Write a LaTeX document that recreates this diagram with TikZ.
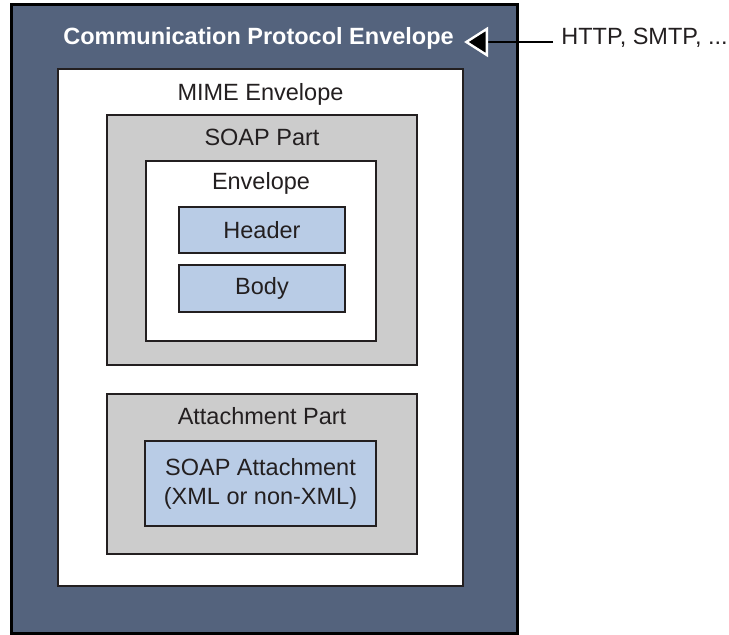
\documentclass[tikz,border=0pt]{standalone}
\usepackage{fontspec}
\setmainfont{Liberation Sans}
\usetikzlibrary{arrows.meta,positioning}
\definecolor{slate}{RGB}{84,99,125}
\definecolor{partgray}{RGB}{204,204,204}
\definecolor{soapblue}{RGB}{185,204,230}
\definecolor{edge}{RGB}{35,31,32}

\begin{document}
\begin{tikzpicture}[x=0.5pt, y=-0.5pt,
    every node/.style={font=\fontsize{11.75}{14.5}\selectfont, text=edge},
    box/.style={draw=edge, line width=1pt, rectangle, inner sep=0pt},
    title/.style={anchor=base, inner sep=0pt}]
    \useasboundingbox (0,0) rectangle (729,635);

    \node[box, draw=black, line width=1.5pt, fill=slate, minimum width=253pt, minimum height=314.5pt] (protocol) at (264,319.5) {};
    \node[box, fill=white, minimum width=202.5pt, minimum height=258.5pt] (mime) at (260.5,327.5) {};
    \node[box, fill=partgray, minimum width=155pt, minimum height=125pt] (soappart) at (262,240) {};
    \node[box, fill=white, minimum width=115pt, minimum height=90pt] (envelope) at (261,251) {};
    \node[box, fill=soapblue, minimum width=83pt, minimum height=23pt] (header) at (262,230) {Header};
    \node[box, fill=soapblue, minimum width=83pt, minimum height=23.5pt] (body) at (262,288.5) {Body};
    \node[box, fill=partgray, minimum width=155pt, minimum height=80pt] (attachpart) at (262,474) {};
    \node[box, fill=soapblue, minimum width=115.5pt, minimum height=42.5pt, align=center] (attachment) at (260.5,483.5) {SOAP Attachment\\(XML or non-XML)};

    \node[title, text=white, font=\fontsize{11.75}{14.5}\selectfont\bfseries] (protocoltitle) at (258.5,45) {Communication Protocol Envelope};
    \node[title] (mimetitle) at (260.5,101) {MIME Envelope};
    \node[title] (soaptitle) at (262,146) {SOAP Part};
    \node[title] (envtitle) at (261,190) {Envelope};
    \node[title] (attachtitle) at (262,425) {Attachment Part};
    \node[title, anchor=base west] (transport) at (561,45) {HTTP, SMTP, ...};

    \draw[black, line width=1pt, -{Triangle[length=12pt, width=15pt, fill=black, color=white, line width=1.2pt]}] ([xshift=-4pt, yshift=1.5pt]transport.base west) -- ([xshift=5pt, yshift=1.5pt]protocoltitle.base east);
\end{tikzpicture}
\end{document}
